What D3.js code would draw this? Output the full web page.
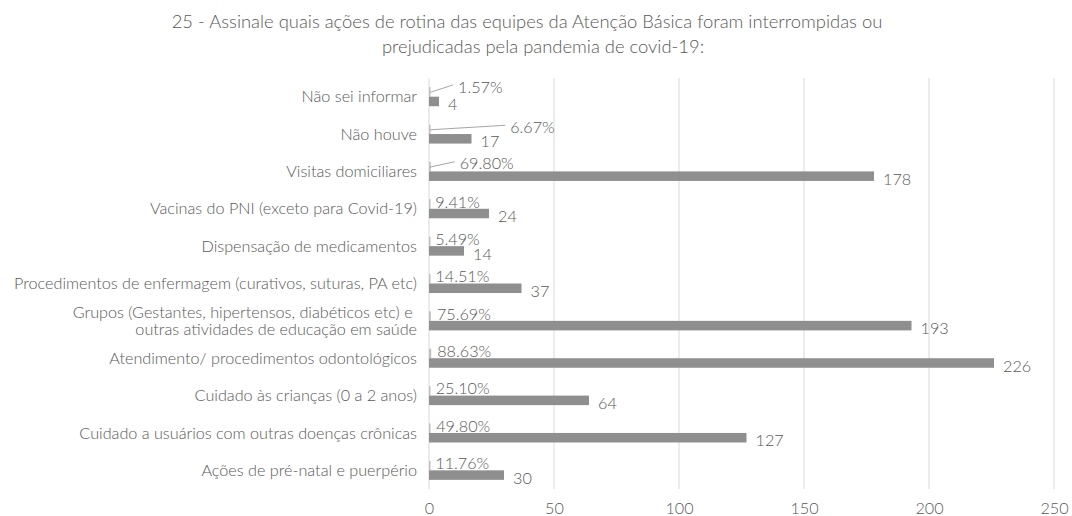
<!DOCTYPE html>
<html>
<head>
<meta charset="utf-8">
<script src="https://cdn.jsdelivr.net/npm/d3@7"></script>
<style>
  body { margin: 0; background: #fff; }
  svg text { font-family: Lato, "Open Sans", sans-serif; font-weight: 300; fill: #595959; }
  .grid line { stroke: #d9d9d9; stroke-width: 1; }
</style>
</head>
<body>
<div id="chart"></div>
<script>
// Data - question 25
const categories = [
  'Não sei informar',
  'Não houve',
  'Visitas domiciliares',
  'Vacinas do PNI (exceto para Covid-19)',
  'Dispensação de medicamentos',
  'Procedimentos de enfermagem (curativos, suturas, PA etc)',
  'Grupos (Gestantes, hipertensos, diabéticos etc) e\u00a0|outras atividades de educação em saúde',
  'Atendimento/ procedimentos odontológicos',
  'Cuidado às crianças (0 a 2 anos)',
  'Cuidado a usuários com outras doenças crônicas',
  'Ações de pré-natal e puerpério'
];
const counts = [4, 17, 178, 24, 14, 37, 193, 226, 64, 127, 30];
const percents = [0.0157, 0.0667, 0.698, 0.0941, 0.0549, 0.1451, 0.7569, 0.8863, 0.251, 0.498, 0.1176];
const xTicks = [0, 50, 100, 150, 200, 250];
const titleLines = [
  '25 - Assinale quais ações de rotina das equipes da Atenção Básica foram interrompidas ou',
  'prejudicadas pela pandemia de covid-19:'
];

// percent labels that were dragged away from the bar (with leader lines)
const movedLabels = { 0: [23, -3], 1: [75, 0], 2: [23, -1] };

const width = 1072, height = 516;
const margin = { left: 429, right: 18, top: 78, bottom: 27 };
const fs = '16.2px';

const svg = d3.select('#chart').append('svg')
  .attr('width', width)
  .attr('height', height);

const x = d3.scaleLinear()
  .domain([0, 250])
  .range([margin.left, width - margin.right]);

const y = d3.scaleBand()
  .domain(categories)
  .range([margin.top, height - margin.bottom]);

const groupH = y.bandwidth() * 0.51;
const sub = d3.scaleBand()
  .domain(['pct', 'count'])
  .range([0, groupH]);

// Title
svg.append('g').selectAll('text')
  .data(titleLines)
  .join('text')
  .attr('x', (d, i) => i === 0 ? 527 : 543)
  .attr('y', (d, i) => 22 + i * 25)
  .attr('dy', '0.35em')
  .attr('text-anchor', 'middle')
  .style('font-size', '18.4px')
  .text(d => d);

// Gridlines
svg.append('g')
  .attr('class', 'grid')
  .selectAll('line')
  .data(xTicks)
  .join('line')
  .attr('x1', d => x(d))
  .attr('x2', d => x(d))
  .attr('y1', margin.top)
  .attr('y2', height - margin.bottom);

// X axis labels
const xAxis = d3.axisBottom(x).tickValues(xTicks).tickSize(0).tickPadding(0);
const axG = svg.append('g')
  .attr('transform', `translate(0, 508)`)
  .call(xAxis);
axG.select('.domain').remove();
axG.selectAll('text')
  .attr('dy', '0.35em')
  .attr('y', 0)
  .style('font-size', fs)
  .style('font-family', 'Lato, sans-serif')
  .attr('fill', '#595959');

const groupTop = d => y(d) + (y.bandwidth() - groupH) / 2;

// Category labels
const catG = svg.append('g');
categories.forEach(c => {
  const lines = c.split('|');
  const cy = y(c) + y.bandwidth() / 2;
  const lh = 17;
  lines.forEach((ln, i) => {
    catG.append('text')
      .attr('x', 417)
      .attr('y', cy + (i - (lines.length - 1) / 2) * lh)
      .attr('dy', '0.35em')
      .attr('text-anchor', 'end')
      .style('font-size', fs)
      .text(ln);
  });
});

// Percent bars (share of the 0-250 scale is ~0, drawn as a hairline)
svg.append('g').selectAll('rect')
  .data(percents)
  .join('rect')
  .attr('x', x(0))
  .attr('y', (d, i) => groupTop(categories[i]) + sub('pct'))
  .attr('width', d => Math.max(1.5, x(d) - x(0)))
  .attr('height', sub.bandwidth())
  .attr('fill', '#bfbfbf');

// Count bars
svg.append('g').selectAll('rect')
  .data(counts)
  .join('rect')
  .attr('x', x(0))
  .attr('y', (d, i) => groupTop(categories[i]) + sub('count'))
  .attr('width', d => x(d) - x(0))
  .attr('height', sub.bandwidth())
  .attr('fill', '#8f8f8f');

// Count labels
svg.append('g').selectAll('text')
  .data(counts)
  .join('text')
  .attr('x', d => x(d) + 9)
  .attr('y', (d, i) => groupTop(categories[i]) + sub('count') + sub.bandwidth() / 2 + 3)
  .attr('dy', '0.35em')
  .style('font-size', fs)
  .text(d => d);

// Percent labels
const pctG = svg.append('g');
percents.forEach((p, i) => {
  const by = groupTop(categories[i]) + sub('pct') + sub.bandwidth() / 2;
  const shift = movedLabels[i] || [0, 0];
  const lx = x(p) + 6 + shift[0];
  const ly = by - 2 + shift[1];
  if (movedLabels[i]) {
    pctG.append('line')
      .attr('x1', x(0) + 1)
      .attr('y1', by + 0.5)
      .attr('x2', lx - 5)
      .attr('y2', ly - 2)
      .attr('stroke', '#a6a6a6')
      .attr('stroke-width', 1);
  }
  pctG.append('text')
    .attr('x', lx)
    .attr('y', ly)
    .attr('dy', '0.35em')
    .style('font-size', fs)
    .text(d3.format('.2%')(p));
});
</script>
</body>
</html>
